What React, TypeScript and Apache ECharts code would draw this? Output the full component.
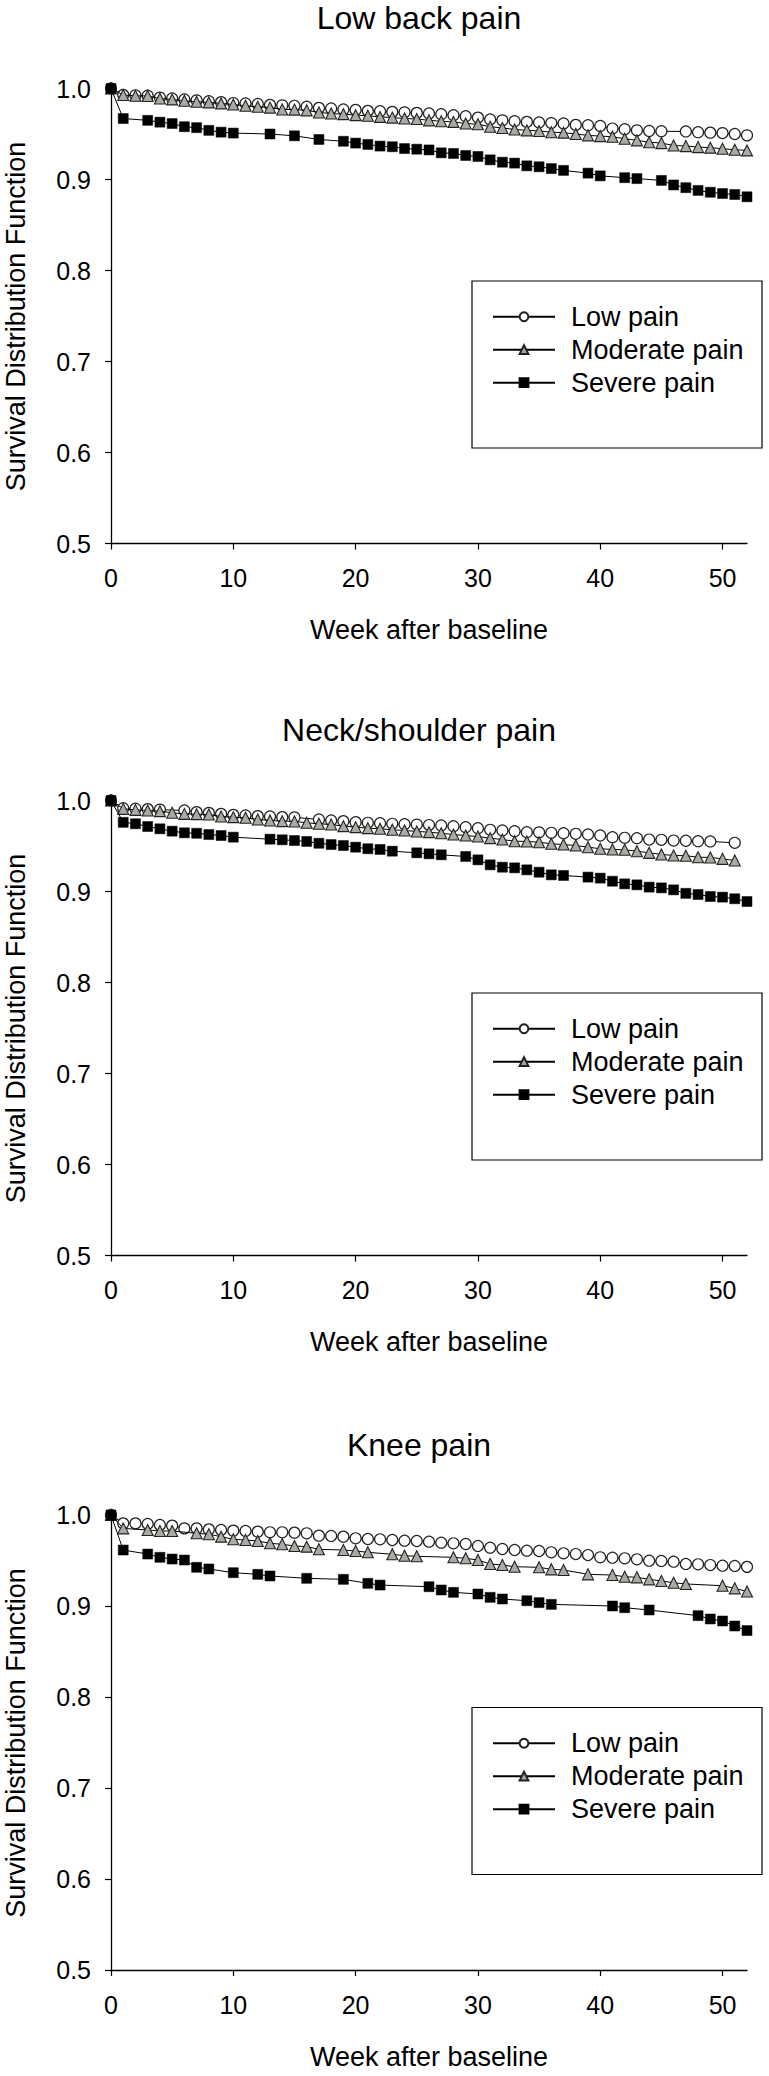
import React, { useEffect, useRef } from "react";
import * as echarts from "echarts";

const panelTitles = ["Low back pain", "Neck/shoulder pain", "Knee pain"];
const seriesNames = ["Low pain", "Moderate pain", "Severe pain"];
const xTicks = [0, 10, 20, 30, 40, 50];
const yTicks = [0.5, 0.6, 0.7, 0.8, 0.9, 1.0];
const xName = "Week after baseline";
const yName = "Survival Distribution Function";

// Low back pain
const lbpLow = [[0,1],[1,0.993],[2,0.9925],[3,0.992],[4,0.99],[5,0.989],[6,0.988],[7,0.987],[8,0.986],[9,0.985],[10,0.984],[11,0.9835],[12,0.983],[13,0.982],[14,0.9815],[15,0.981],[16,0.98],[17,0.9787],[18,0.978],[19,0.977],[20,0.9765],[21,0.9754],[22,0.975],[23,0.9743],[24,0.9738],[25,0.9732],[26,0.9725],[27,0.9718],[28,0.9707],[29,0.9695],[30,0.968],[31,0.966],[32,0.965],[33,0.964],[34,0.9633],[35,0.9626],[36,0.962],[37,0.9615],[38,0.96],[39,0.9596],[40,0.9588],[41,0.956],[42,0.9552],[43,0.954],[44,0.9533],[45,0.953],[47,0.9528],[48,0.952],[49,0.9515],[50,0.951],[51,0.95],[52,0.9485]];
const lbpModerate = [[0,1],[1,0.9928],[2,0.992],[3,0.9917],[4,0.989],[5,0.988],[6,0.9865],[7,0.9854],[8,0.9847],[9,0.9836],[10,0.9825],[11,0.981],[12,0.98],[13,0.979],[14,0.977],[15,0.9768],[16,0.976],[17,0.9736],[18,0.9725],[19,0.9718],[20,0.9707],[21,0.97],[22,0.9688],[23,0.968],[24,0.967],[25,0.9665],[26,0.965],[27,0.964],[28,0.9633],[29,0.9615],[30,0.9607],[31,0.958],[32,0.9566],[33,0.955],[34,0.954],[35,0.9533],[36,0.952],[37,0.9515],[38,0.95],[39,0.9485],[40,0.9477],[41,0.947],[42,0.9448],[43,0.943],[44,0.941],[45,0.94],[46,0.9374],[47,0.9367],[48,0.9356],[49,0.935],[50,0.9338],[51,0.9327],[52,0.932]];
const lbpSevere = [[0,1],[1,0.967],[3,0.965],[4,0.963],[5,0.9615],[6,0.958],[7,0.957],[8,0.954],[9,0.952],[10,0.951],[13,0.95],[15,0.948],[17,0.944],[19,0.942],[20,0.94],[21,0.9385],[22,0.9367],[23,0.936],[24,0.934],[25,0.9333],[26,0.9325],[27,0.9293],[28,0.9286],[29,0.9264],[30,0.9253],[31,0.9216],[32,0.919],[33,0.918],[34,0.915],[35,0.914],[36,0.912],[37,0.91],[39,0.907],[40,0.904],[42,0.902],[43,0.901],[45,0.899],[46,0.894],[47,0.891],[48,0.888],[49,0.886],[50,0.8846],[51,0.8835],[52,0.881]];

// Neck/shoulder pain
const nspLow = [[0,1],[1,0.9915],[2,0.991],[3,0.9905],[4,0.99],[6,0.989],[7,0.9872],[8,0.9864],[9,0.9853],[10,0.9842],[11,0.9835],[12,0.9828],[13,0.9824],[14,0.9817],[15,0.9815],[17,0.9791],[18,0.978],[19,0.9773],[20,0.9762],[21,0.9755],[22,0.975],[23,0.9744],[24,0.974],[25,0.9735],[26,0.973],[27,0.9725],[28,0.9718],[29,0.9707],[30,0.9696],[31,0.9678],[32,0.967],[33,0.9663],[34,0.9652],[35,0.965],[36,0.9645],[37,0.964],[38,0.9634],[39,0.9626],[40,0.9615],[41,0.9597],[42,0.959],[43,0.9586],[44,0.9571],[45,0.9568],[46,0.956],[47,0.9558],[48,0.9553],[49,0.955],[51,0.9535]];
const nspModerate = [[0,1],[1,0.9908],[2,0.9897],[3,0.989],[4,0.9883],[5,0.9865],[6,0.9853],[7,0.985],[8,0.9846],[9,0.9824],[10,0.9817],[11,0.981],[12,0.9791],[13,0.978],[14,0.9773],[15,0.977],[16,0.9755],[17,0.9744],[18,0.9736],[19,0.9718],[20,0.9707],[21,0.9696],[22,0.9689],[23,0.9678],[24,0.967],[25,0.966],[26,0.9652],[27,0.964],[28,0.9626],[29,0.9615],[30,0.9604],[31,0.9586],[32,0.9571],[33,0.9553],[34,0.955],[35,0.9542],[36,0.9524],[37,0.9516],[38,0.9505],[39,0.9487],[40,0.947],[41,0.9462],[42,0.9458],[43,0.9443],[44,0.9425],[45,0.9407],[46,0.9396],[47,0.9393],[48,0.9377],[49,0.9374],[50,0.9359],[51,0.934]];
const nspSevere = [[0,1],[1,0.976],[2,0.9744],[3,0.9714],[4,0.9689],[5,0.9663],[6,0.9645],[7,0.964],[8,0.9626],[9,0.9615],[10,0.9597],[13,0.9575],[14,0.9568],[15,0.956],[16,0.955],[17,0.953],[18,0.9516],[19,0.9505],[20,0.9487],[21,0.947],[22,0.9462],[23,0.9443],[25,0.9425],[26,0.9414],[27,0.9403],[29,0.9385],[30,0.9348],[31,0.9293],[32,0.9267],[33,0.926],[34,0.9238],[35,0.9212],[36,0.9183],[37,0.9176],[39,0.9158],[40,0.9147],[41,0.9113],[42,0.9084],[43,0.9073],[44,0.9048],[45,0.904],[46,0.9018],[47,0.898],[48,0.8967],[49,0.8945],[50,0.8938],[51,0.892],[52,0.889]];

// Knee pain
const kpLow = [[0,1],[1,0.9908],[2,0.9908],[3,0.9901],[4,0.989],[5,0.9883],[6,0.9853],[7,0.9853],[8,0.9842],[9,0.9835],[10,0.9828],[11,0.9824],[12,0.9817],[13,0.981],[14,0.981],[15,0.9806],[16,0.9799],[17,0.9773],[18,0.977],[19,0.9762],[20,0.9744],[21,0.9736],[22,0.9733],[23,0.9725],[24,0.9718],[25,0.9714],[26,0.9707],[27,0.9696],[28,0.9689],[29,0.9681],[30,0.966],[31,0.9641],[32,0.9626],[33,0.9615],[34,0.9608],[35,0.9604],[36,0.959],[37,0.9579],[38,0.9571],[39,0.956],[40,0.9535],[41,0.9531],[42,0.9524],[43,0.9513],[44,0.9498],[45,0.9495],[46,0.9487],[47,0.9462],[48,0.9458],[49,0.945],[50,0.9443],[51,0.944],[52,0.943]];
const kpModerate = [[0,1],[1,0.9853],[3,0.9835],[4,0.9824],[5,0.9824],[7,0.9799],[8,0.9788],[9,0.9762],[10,0.9733],[11,0.9725],[12,0.9714],[13,0.9689],[14,0.9678],[15,0.966],[16,0.9652],[17,0.9623],[19,0.9615],[20,0.9604],[21,0.959],[23,0.9568],[24,0.9553],[25,0.9546],[28,0.9535],[29,0.9524],[30,0.9505],[31,0.9462],[32,0.945],[33,0.9432],[35,0.9425],[36,0.9403],[37,0.9396],[39,0.9348],[41,0.934],[42,0.9322],[43,0.9315],[44,0.9293],[45,0.9275],[46,0.9256],[47,0.9242],[50,0.9223],[51,0.9194],[52,0.916]];
const kpSevere = [[0,1],[1,0.9615],[3,0.9571],[4,0.9535],[5,0.9516],[6,0.9505],[7,0.9425],[8,0.9407],[10,0.9366],[12,0.9348],[13,0.933],[16,0.9304],[19,0.9293],[21,0.9249],[22,0.923],[26,0.9212],[27,0.9176],[28,0.915],[30,0.9132],[31,0.9095],[32,0.9077],[34,0.9058],[35,0.9037],[36,0.9018],[41,0.9],[42,0.8981],[44,0.8956],[48,0.8894],[49,0.8857],[50,0.8835],[51,0.878],[52,0.873]];

const panelData = [
  [lbpLow, lbpModerate, lbpSevere],
  [nspLow, nspModerate, nspSevere],
  [kpLow, kpModerate, kpSevere],
];

const FONT = "Liberation Sans";
const gridTops = [88.5, 800.5, 1515];
const gridLeft = 111;
const gridWidth = 636;
const gridHeight = 455;

const symbolStyles = [
  { symbol: "circle", itemStyle: { color: "#ffffff", borderColor: "#222", borderWidth: 1.2 } },
  { symbol: "triangle", itemStyle: { color: "#a9aaa3", borderColor: "#222", borderWidth: 1.1 } },
  { symbol: "rect", itemStyle: { color: "#000000", borderColor: "#000", borderWidth: 0.5 } },
];

export default function App() {
  const ref = useRef<HTMLDivElement>(null);
  useEffect(() => {
    document.body.style.margin = "0";
    const chart = echarts.init(ref.current!, null, { renderer: "svg" });
    const axisLineStyle = { color: "#000", width: 1.3 };
    const grids: any[] = [];
    const xAxes: any[] = [];
    const yAxes: any[] = [];
    const series: any[] = [];
    const legends: any[] = [];
    const graphics: any[] = [];
    gridTops.forEach((top, i) => {
      grids.push({ left: gridLeft, top, width: gridWidth, height: gridHeight, containLabel: false });
      xAxes.push({
        type: "value", gridIndex: i, min: 0, max: 52, interval: 10,
        axisLine: { show: true, onZero: false, lineStyle: axisLineStyle },
        axisTick: { show: true, length: 6, customValues: xTicks, lineStyle: { color: "#000", width: 1.2 } },
        axisLabel: { customValues: xTicks, fontSize: 25, color: "#000", fontFamily: FONT, margin: 22 },
        splitLine: { show: false },
      });
      yAxes.push({
        type: "value", gridIndex: i, min: 0.5, max: 1.0, interval: 0.1,
        axisLine: { show: true, onZero: false, lineStyle: axisLineStyle },
        axisTick: { show: true, length: 6, customValues: yTicks, lineStyle: { color: "#000", width: 1.2 } },
        axisLabel: {
          customValues: yTicks, fontSize: 25, color: "#000", fontFamily: FONT, margin: 20,
          formatter: (v: number) => v.toFixed(1),
        },
        splitLine: { show: false },
      });
      panelData[i].forEach((data, k) => {
        series.push({
          type: "line", name: seriesNames[k], xAxisIndex: i, yAxisIndex: i, data,
          symbol: symbolStyles[k].symbol, symbolSize: k === 2 ? 10 : 11,
          lineStyle: { color: "#000", width: 1 },
          itemStyle: symbolStyles[k].itemStyle,
          emphasis: { disabled: true }, z: 2 + k,
        });
      });
      legends.push({
        orient: "vertical", left: 492, top: top + 214.7, padding: 0,
        itemWidth: 62, itemHeight: 11, itemGap: 6, selectedMode: false,
        data: seriesNames,
        textStyle: { fontSize: 27, color: "#000", fontFamily: FONT, padding: [0, 0, 0, 11] },
      });
      graphics.push({
        type: "rect", shape: { x: 472, y: top + 192.5, width: 290, height: 167 },
        style: { fill: "none", stroke: "#000", lineWidth: 1.2 },
      });
      graphics.push({
        type: "text", x: 419, y: top - 70.5,
        style: { text: panelTitles[i], fill: "#000", fontSize: 32, fontFamily: FONT, align: "center", verticalAlign: "middle" },
      });
      graphics.push({
        type: "text", x: 429, y: top + 541.5,
        style: { text: xName, fill: "#000", fontSize: 27, fontFamily: FONT, align: "center", verticalAlign: "middle" },
      });
      graphics.push({
        type: "text", x: 16, y: top + 228, rotation: Math.PI / 2,
        style: { text: yName, fill: "#000", fontSize: 27, fontFamily: FONT, align: "center", verticalAlign: "middle" },
      });
    });
    chart.setOption({
      animation: false,
      backgroundColor: "#ffffff",
      grid: grids,
      xAxis: xAxes,
      yAxis: yAxes,
      series,
      legend: legends,
      graphic: { elements: graphics },
    });
    return () => chart.dispose();
  }, []);
  return <div ref={ref} style={{ width: 769, height: 2076 }} />;
}
